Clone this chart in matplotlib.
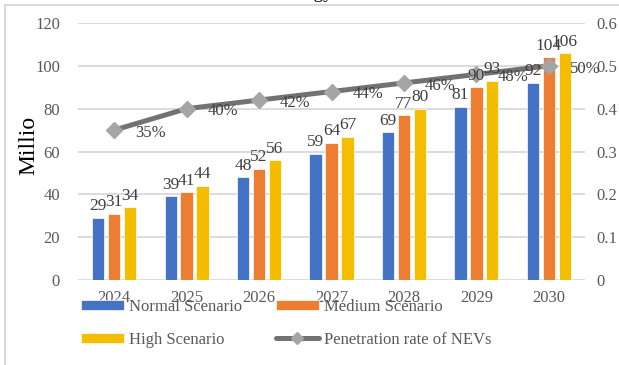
import numpy as np
import matplotlib.pyplot as plt
from matplotlib.patches import Rectangle
from matplotlib.lines import Line2D

plt.rcParams['font.family'] = ['Liberation Serif', 'DejaVu Serif']

years = ['2024', '2025', '2026', '2027', '2028', '2029', '2030']
normal = [29, 39, 48, 59, 69, 81, 92]
medium = [31, 41, 52, 64, 77, 90, 104]
high = [34, 44, 56, 67, 80, 93, 106]
penetration = [0.35, 0.40, 0.42, 0.44, 0.46, 0.48, 0.50]

W, H = 619, 365
fig = plt.figure(figsize=(W / 100, H / 100), dpi=100)

# plot area in pixel coordinates
left, right, top, bottom = 78, 585, 23, 280
ax = fig.add_axes([left / W, 1 - bottom / H, (right - left) / W, (bottom - top) / H])
ax2 = ax.twinx()
ax2.set_zorder(ax.get_zorder() + 1)
ax2.patch.set_visible(False)

x = np.arange(len(years))
bw = 0.17
step = 0.22
series = [(normal, '#4472C4', 'Normal Scenario'),
          (medium, '#ED7D31', 'Medium Scenario'),
          (high, '#F5BD00', 'High Scenario')]
bar_handles = []
for i, (vals, col, name) in enumerate(series):
    pos = x + (i - 1) * step
    b = ax.bar(pos, vals, width=bw, color=col, edgecolor='white', linewidth=0.5,
               label=name, zorder=2)
    bar_handles.append(b)
    # value labels live on the top axes so they sit over the line
    for px, v in zip(pos, vals):
        ax2.annotate(f'{v}', (px, v), xycoords=ax.transData, xytext=(0, 2.5),
                     textcoords='offset points', ha='center', va='bottom',
                     fontsize=12.5, color='#404040', zorder=7)

ax.set_ylim(0, 120)
ax.set_yticks(range(0, 121, 20))
ax.set_xlim(-0.5, len(years) - 0.5)
ax.set_xticks(x)
ax.set_xticklabels(years)
ax.grid(axis='y', color='#D9D9D9', linewidth=1.3, zorder=0)
ax.set_axisbelow(True)
for s in ax.spines.values():
    s.set_visible(False)
for s in ax2.spines.values():
    s.set_visible(False)
ax.tick_params(axis='y', length=0, pad=13, labelsize=12, labelcolor='#595959')
ax.tick_params(axis='x', length=0, pad=7, labelsize=12, labelcolor='#595959')

ax2.set_ylim(0, 0.6)
ax2.set_yticks([0, 0.1, 0.2, 0.3, 0.4, 0.5, 0.6])
ax2.set_yticklabels(['0', '0.1', '0.2', '0.3', '0.4', '0.5', '0.6'])
ax2.tick_params(axis='y', length=0, pad=8, labelsize=12, labelcolor='#595959')

line, = ax2.plot(x, penetration, color='#767171', linewidth=3.6, marker='D',
                 markersize=8, markerfacecolor='#A5A5A5', markeredgecolor='#A5A5A5',
                 zorder=5, solid_capstyle='round')
for px, v in zip(x, penetration):
    ax2.annotate(f'{round(v * 100)}%', (px, v), xytext=(15, -2), textcoords='offset points',
                 ha='left', va='center', fontsize=12, color='#404040', zorder=6)

fig.text(29 / W, 1 - 145 / H, 'Millio', rotation=90, fontsize=17,
         ha='center', va='center', color='black')

# title sits above the visible area, only its descenders show
fig.text(333 / W, 1 + 1.5 / H, 'Energy', fontsize=14, ha='right', va='baseline')

leg_line = Line2D([], [], color='#767171', linewidth=3.6, marker='D', markersize=6,
                  markerfacecolor='#A5A5A5', markeredgecolor='#A5A5A5',
                  solid_capstyle='round')
handles = [bar_handles[0], bar_handles[2], bar_handles[1], leg_line]
labels = ['Normal Scenario', 'High Scenario', 'Medium Scenario', 'Penetration rate of NEVs']
fig.legend(handles, labels, ncol=2, loc='upper left',
           bbox_to_anchor=(81 / W, 1 - 299 / H), frameon=False, fontsize=12,
           labelcolor='#595959', handlelength=2.6, handleheight=0.5,
           handletextpad=0.3, columnspacing=2.0, labelspacing=1.0,
           borderaxespad=0, borderpad=0)

# chart border
fig.add_artist(Rectangle((5 / W, -0.1), 1.2, 1 - 5 / H + 0.1, transform=fig.transFigure,
                         fill=False, edgecolor='#D9D9D9', linewidth=1.5))

fig.savefig('out.png', dpi=100)
